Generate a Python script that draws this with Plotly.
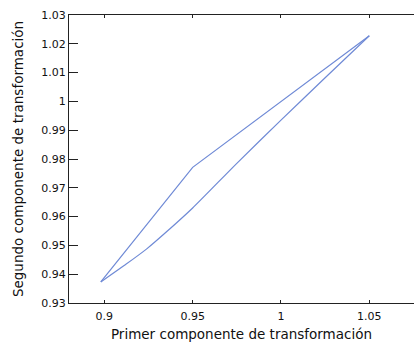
import plotly.graph_objects as go

# Transformation components along the two branches of the path
upper_x = [0.898, 0.95, 1.05]
upper_y = [0.9373, 0.9771, 1.0228]

lower_x = [0.898, 0.911, 0.924, 0.937, 0.95, 0.975, 1.0, 1.025, 1.05]
lower_y = [0.9373, 0.9429, 0.9488, 0.9557, 0.9630, 0.9785, 0.9935, 1.0082, 1.0228]

x_ticks = [0.9, 0.95, 1.0, 1.05]
x_tick_text = ["0.9", "0.95", "1", "1.05"]
y_ticks = [0.93, 0.94, 0.95, 0.96, 0.97, 0.98, 0.99, 1.0, 1.01, 1.02, 1.03]
y_tick_text = ["0.93", "0.94", "0.95", "0.96", "0.97", "0.98", "0.99", "1", "1.01", "1.02", "1.03"]

line_color = "#6f8ad6"

fig = go.Figure()
fig.add_trace(go.Scatter(x=upper_x, y=upper_y, mode="lines",
                         line=dict(color=line_color, width=1.2), showlegend=False))
fig.add_trace(go.Scatter(x=lower_x, y=lower_y, mode="lines",
                         line=dict(color=line_color, width=1.2, shape="spline", smoothing=0.8),
                         showlegend=False))

font_family = "DejaVu Sans, Liberation Sans, sans-serif"

fig.update_layout(
    width=414, height=348,
    margin=dict(l=69, r=0, t=15, b=45),
    plot_bgcolor="white", paper_bgcolor="white",
    font=dict(family=font_family, size=11, color="#111"),
)
fig.update_xaxes(
    range=[0.88, 1.0753],
    tickvals=x_ticks, ticktext=x_tick_text,
    ticks="inside", ticklen=3, tickcolor="#222",
    showline=True, linecolor="#222", linewidth=1, mirror="ticks",
    showgrid=False, zeroline=False,
    tickfont=dict(size=11), ticklabelstandoff=3,
    title=dict(text="Primer componente de transformación", font=dict(size=13.5), standoff=7),
)
fig.update_yaxes(
    range=[0.93, 1.03],
    tickvals=y_ticks, ticktext=y_tick_text,
    ticks="inside", ticklen=9, tickcolor="#222",
    showline=True, linecolor="#222", linewidth=1,
    showgrid=False, zeroline=False,
    tickfont=dict(size=11),
    title=dict(text="Segundo componente de transformación", font=dict(size=13.5), standoff=14),
)

fig.write_html("out.html")
